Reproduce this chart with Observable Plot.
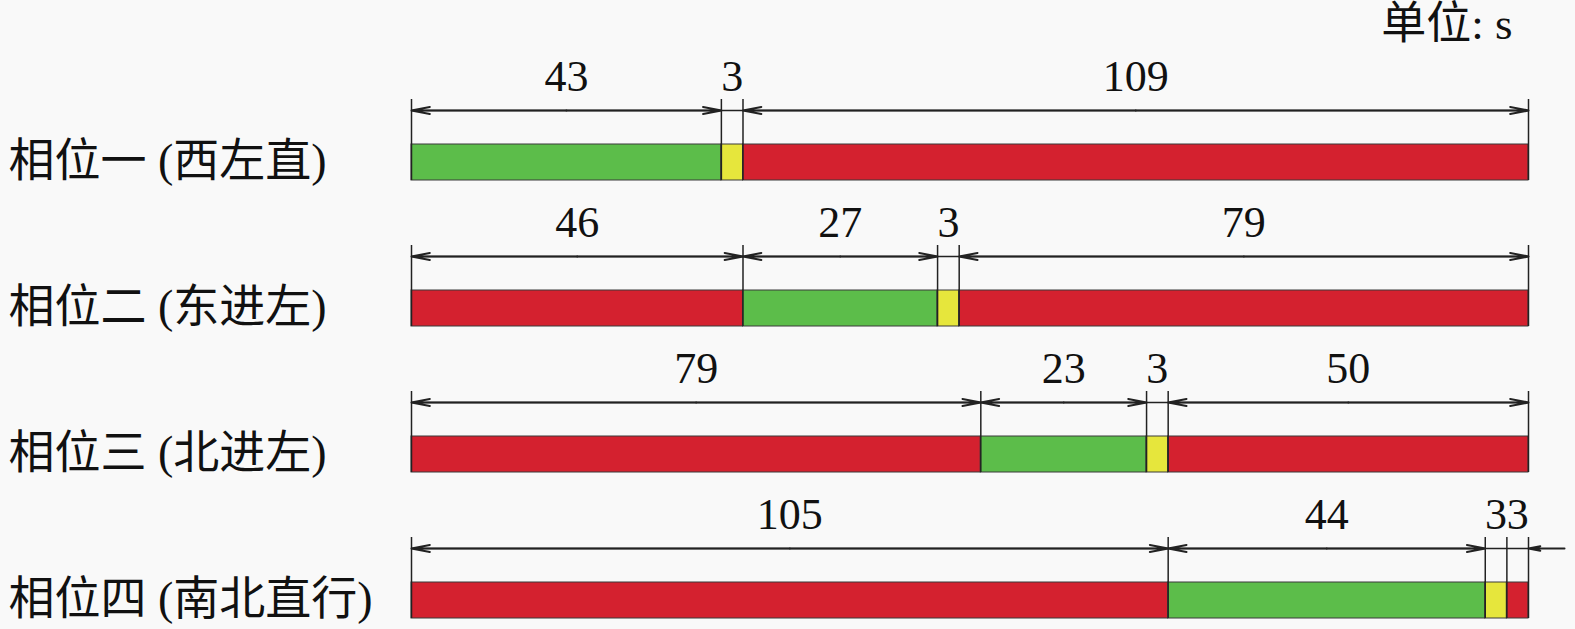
<!DOCTYPE html>
<html>
<head>
<meta charset="utf-8">
<script src="https://cdn.jsdelivr.net/npm/d3@7"></script>
<script src="https://cdn.jsdelivr.net/npm/@observablehq/plot@0.6"></script>
<style>
  html, body { margin: 0; padding: 0; background: #f9f9f9; overflow: hidden; }
  #chart svg { display: block; max-width: none !important; }
</style>
</head>
<body>
<div id="chart"></div>
<script>
// ---- data ----
const phases = ["相位一 (西左直)", "相位二 (东进左)", "相位三 (北进左)", "相位四 (南北直行)"];
const phase1Durations = [43, 3, 109];
const phase1States = ["green", "yellow", "red"];
const phase2Durations = [46, 27, 3, 79];
const phase2States = ["red", "green", "yellow", "red"];
const phase3Durations = [79, 23, 3, 50];
const phase3States = ["red", "green", "yellow", "red"];
const phase4Durations = [105, 44, 3, 3];
const phase4States = ["red", "green", "yellow", "red"];
const cycleLength = 155;
const unitLabel = "单位: s";

const stateColors = {green: "#5cbd4a", yellow: "#e6e63c", red: "#d4212f"};

// ---- build table ----
const allDurations = [phase1Durations, phase2Durations, phase3Durations, phase4Durations];
const allStates = [phase1States, phase2States, phase3States, phase4States];
const segments = [];
const boundaries = [];
phases.forEach((p, i) => {
  let t = 0;
  boundaries.push({phase: p, x: 0});
  allDurations[i].forEach((d, j) => {
    segments.push({phase: p, start: t, end: t + d, dur: d, state: allStates[i][j],
                   last: j === allDurations[i].length - 1});
    t += d;
    boundaries.push({phase: p, x: t});
  });
});
const bigSegs = segments.filter(s => s.dur >= 5);
const smallLast = segments.filter(s => s.dur < 5 && s.last);

const serif = "'Liberation Serif', 'Times New Roman', 'Noto Sans CJK SC', serif";
const arrowStyle = {stroke: "#222", strokeWidth: 2, headLength: 14, headAngle: 22, dy: 1};

const chart = Plot.plot({
  width: 1575,
  height: 629,
  marginLeft: 411,
  marginRight: 47,
  marginTop: 35,
  marginBottom: 9,
  style: {background: "#f9f9f9", fontFamily: serif},
  x: {domain: [0, cycleLength], axis: null},
  y: {domain: phases, padding: 0, axis: null},
  marks: [
    // bars
    Plot.barX(segments, {
      x1: "start", x2: "end", y: "phase",
      fill: d => stateColors[d.state],
      stroke: "#3a3a3a", strokeWidth: 1,
      insetTop: 108, insetBottom: 2
    }),
    // extension lines
    Plot.tickX(boundaries, {
      x: "x", y: "phase", stroke: "#222", strokeWidth: 1.5,
      insetTop: 63, insetBottom: 2
    }),
    // dimension line
    Plot.ruleY(phases, {y: d => d, x1: 0, x2: cycleLength, stroke: "#222", strokeWidth: 1.5, dy: 1}),
    // arrows within segments
    Plot.arrow(bigSegs, {
      x1: d => (d.start + d.end) / 2, x2: "start", y1: "phase", y2: "phase", ...arrowStyle
    }),
    Plot.arrow(bigSegs, {
      x1: d => (d.start + d.end) / 2, x2: "end", y1: "phase", y2: "phase", ...arrowStyle
    }),
    // outside arrow for small final segments
    Plot.arrow(smallLast, {
      x1: d => d.end + 5, x2: "end", y1: "phase", y2: "phase", ...arrowStyle, headLength: 11
    }),
    // duration labels
    Plot.text(segments, {
      x: d => (d.start + d.end) / 2, y: "phase", text: d => String(d.dur),
      fontSize: 44, fill: "#111", dy: -33, lineAnchor: "middle",
      fontFamily: serif
    }),
    // phase labels
    Plot.text(phases, {
      y: d => d, text: d => d, frameAnchor: "left", textAnchor: "start",
      dx: -403, dy: 52, fontSize: 46, fill: "#111", lineAnchor: "middle",
      fontFamily: serif
    }),
    // unit label
    Plot.text([unitLabel], {
      frameAnchor: "top-right", textAnchor: "end", lineAnchor: "middle",
      dx: -16, dy: -11, fontSize: 45, fill: "#111", fontFamily: serif
    })
  ]
});
document.getElementById("chart").appendChild(chart);
</script>
</body>
</html>
